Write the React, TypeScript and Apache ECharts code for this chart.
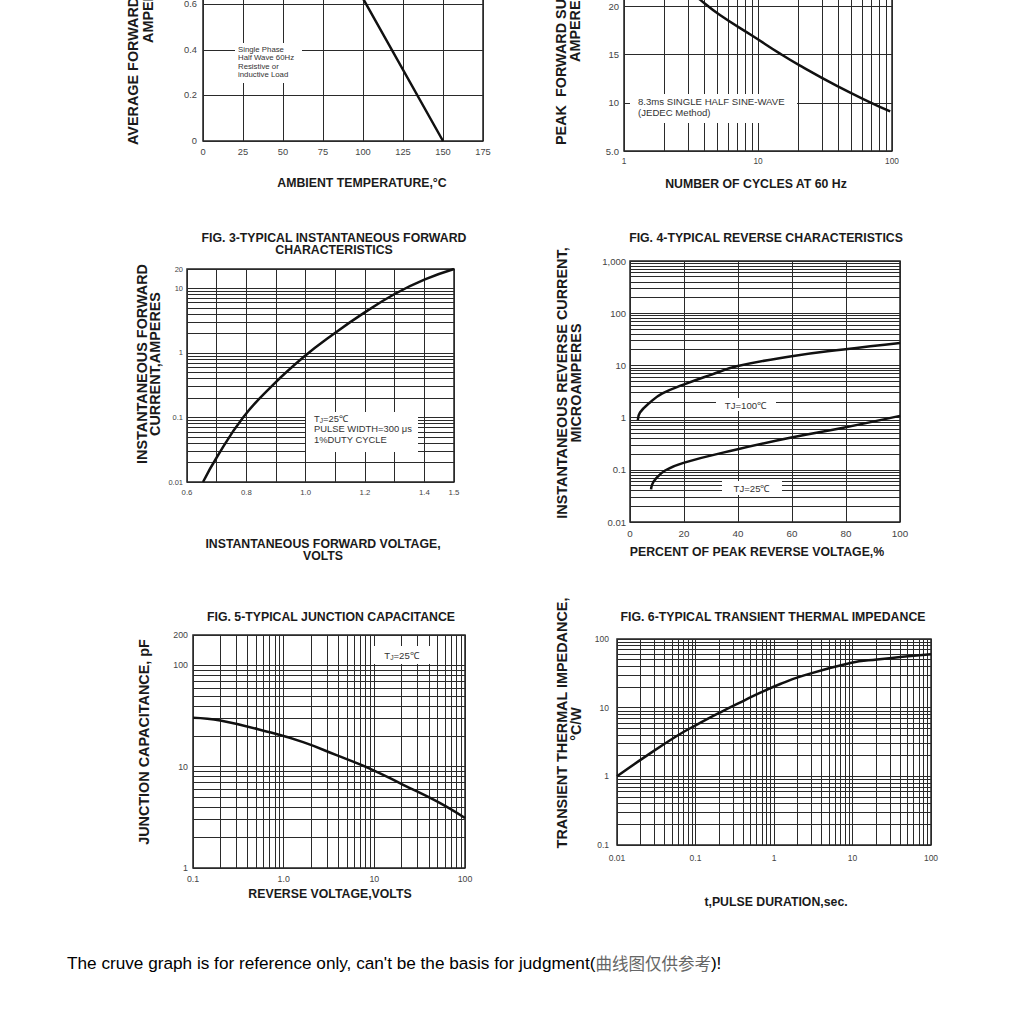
import React, { useEffect, useRef } from 'react';
import * as echarts from 'echarts';

// ---------- data ----------
const fig1Temp = [0, 70, 150];
const fig1Amps = [1.0, 1.0, 0];

const fig2Cycles = [1, 2, 3, 3.69, 5.2, 9.2, 14.6, 20.6, 38.8, 68.7, 97];
const fig2Amps = [30, 24.2, 21.8, 20.7, 19.1, 16.9, 15.1, 13.85, 11.75, 10.05, 9.1];

const fig3Volts = [0.654, 0.7, 0.789, 0.89, 0.995, 1.093, 1.194, 1.3, 1.402, 1.5];
const fig3Amps = [0.01, 0.024, 0.1, 0.32, 0.88, 1.95, 4.1, 8.2, 13.8, 20];

const fig4Pct100 = [2.9, 3.7, 7.4, 12, 19.8, 30, 39.5, 59.3, 79, 100];
const fig4Ua100 = [0.9, 1.25, 1.95, 2.9, 4.27, 6.6, 9.6, 14.8, 20.2, 27];
const fig4Pct25 = [7.8, 8.2, 9.3, 13, 19.8, 39.5, 59.3, 79, 100];
const fig4Ua25 = [0.042, 0.052, 0.065, 0.097, 0.136, 0.245, 0.41, 0.64, 1.08];

const fig5Volts = [0.1, 0.2, 0.7, 1.64, 3.83, 8.9, 20.8, 48.5, 100];
const fig5Pf = [30.5, 28.6, 21.9, 17.5, 13.0, 9.6, 6.63, 4.57, 3.12];

const fig6Time = [0.01, 0.0215, 0.057, 0.1, 0.205, 0.41, 0.66, 1.2, 2.15, 9.4, 20.5, 100];
const fig6Zth = [1.0, 1.84, 3.83, 5.52, 8.5, 12.6, 16.4, 22.1, 28.3, 44.7, 50.2, 59.8];

const fig3XLabels = [0.6, 0.8, 1.0, 1.2, 1.4, 1.5];

const FONT = '"Liberation Sans", Arial, sans-serif';
const GRID_COLOR = '#2a2a2a';
const LABEL_COLOR = '#444';
const NAME_SIZE = 12.3;
const YNAME_SIZE = 14.4;

const zip = (xs: number[], ys: number[]) => xs.map((x, i) => [x, ys[i]]);

function minorLog(min: number, max: number): number[] {
  const out: number[] = [];
  for (let e = Math.floor(Math.log10(min)); e <= Math.ceil(Math.log10(max)); e++) {
    const base = Math.pow(10, e);
    for (let k = 2; k <= 9; k++) {
      const v = +(k * base).toPrecision(6);
      if (v > min * 1.0001 && v < max * 0.9999) out.push(v);
    }
  }
  return out;
}

const fmtNum = (v: number) => String(+(+v).toPrecision(6));

function gridSeries(idx: number, xs: number[], ys: number[]) {
  return {
    type: 'line',
    xAxisIndex: idx,
    yAxisIndex: idx,
    data: [],
    silent: true,
    z: 1,
    markLine: {
      silent: true,
      symbol: ['none', 'none'],
      label: { show: false },
      emphasis: { disabled: true },
      lineStyle: { type: 'solid', color: GRID_COLOR, width: 1 },
      data: [...xs.map((v) => ({ xAxis: v })), ...ys.map((v) => ({ yAxis: v }))],
    },
  };
}

function curve(idx: number, xs: number[], ys: number[], smooth: number | boolean) {
  return {
    type: 'line',
    xAxisIndex: idx,
    yAxisIndex: idx,
    data: zip(xs, ys),
    symbol: 'none',
    smooth,
    z: 5,
    lineStyle: { color: '#111', width: 2.5 },
  };
}

function axisBase(extra: any) {
  return {
    axisLine: { show: false },
    axisTick: { show: false },
    splitLine: { show: true, lineStyle: { color: GRID_COLOR, width: 1 } },
    ...extra,
    axisLabel: { fontSize: 9, color: LABEL_COLOR, fontFamily: FONT, ...(extra.axisLabel || {}) },
  };
}

function txt(x: number, y: number, text: string, o: any = {}) {
  return {
    type: 'text',
    x,
    y,
    z: 100,
    rotation: o.rotate ? Math.PI / 2 : 0,
    style: {
      text,
      fontSize: o.size || NAME_SIZE,
      fontWeight: o.bold === false ? 'normal' : 'bold',
      fontFamily: FONT,
      fill: o.color || '#1a1a1a',
      align: o.align || 'center',
      verticalAlign: 'middle',
    },
  };
}

function box(x: number, y: number, w: number, h: number) {
  return { type: 'rect', z: 99, shape: { x, y, width: w, height: h }, style: { fill: '#fff' } };
}

function note(x: number, y: number, text: string, size: number, lh: number, rich?: any, align = 'left', vAlign = 'top') {
  return {
    type: 'text',
    x,
    y,
    z: 100,
    style: {
      text,
      fontSize: size,
      fontFamily: FONT,
      fill: '#333',
      align,
      verticalAlign: vAlign,
      lineHeight: lh,
      rich,
    },
  };
}

const tjRich = (size: number) => ({
  a: { fontSize: size, fontFamily: FONT, fill: '#333' },
  s: { fontSize: size * 0.7, fontFamily: FONT, fill: '#333', padding: [size * 0.45, 0, 0, 0] },
});

const gridBox = (left: number, top: number, width: number, height: number) => ({
  left,
  top,
  width,
  height,
  show: true,
  borderColor: '#222',
  borderWidth: 1.5,
  backgroundColor: 'transparent',
  containLabel: false,
  outerBoundsMode: 'none',
});

export default function App() {
  const ref = useRef<HTMLDivElement>(null);
  useEffect(() => {
    if (!ref.current) return;
    const chart = echarts.init(ref.current, undefined, { renderer: 'svg' });

    const option: any = {
      animation: false,
      grid: [
        gridBox(203, -87, 280, 228),
        gridBox(624, -90, 268, 241),
        gridBox(187, 269, 267, 213),
        gridBox(630, 261, 270, 261),
        gridBox(193, 635, 272, 233),
        gridBox(617, 639, 314, 206),
      ],
      xAxis: [
        axisBase({ type: 'value', gridIndex: 0, min: 0, max: 175, interval: 25, axisLabel: { margin: 6, fontSize: 9.3 } }),
        axisBase({ type: 'log', gridIndex: 1, min: 1, max: 100, axisLabel: { margin: 6, fontSize: 8.3, formatter: fmtNum } }),
        axisBase({
          type: 'value', gridIndex: 2, min: 0.6, max: 1.5, interval: 0.1,
          axisLabel: {
            margin: 6,
            fontSize: 7.8,
            formatter: (v: number) => {
              const r = Math.round(v * 10) / 10;
              return fig3XLabels.some((l) => Math.abs(l - r) < 1e-6) ? r.toFixed(1) : '';
            },
          },
        }),
        axisBase({ type: 'value', gridIndex: 3, min: 0, max: 100, interval: 20, axisLabel: { margin: 6, fontSize: 9.8 } }),
        axisBase({ type: 'log', gridIndex: 4, min: 0.1, max: 100, axisLabel: { margin: 6, fontSize: 8.8, formatter: (v: number) => (Math.abs(v - 1) < 1e-9 ? '1.0' : fmtNum(v)) } }),
        axisBase({ type: 'log', gridIndex: 5, min: 0.01, max: 100, axisLabel: { margin: 8, fontSize: 8.5, formatter: fmtNum } }),
      ],
      yAxis: [
        axisBase({ type: 'value', gridIndex: 0, min: 0, max: 1.0, interval: 0.2, axisLabel: { margin: 6, fontSize: 9.3, formatter: (v: number) => (v === 0 ? '0' : v > 0.7 ? '' : v.toFixed(1)) } }),
        axisBase({ type: 'value', gridIndex: 1, min: 5, max: 30, interval: 5, axisLabel: { margin: 5, fontSize: 9.5, formatter: (v: number) => (v === 5 ? '5.0' : v > 22 ? '' : String(v)) } }),
        axisBase({ type: 'log', gridIndex: 2, min: 0.01, max: 20, axisLabel: { margin: 4, fontSize: 7.5, formatter: fmtNum } }),
        axisBase({ type: 'log', gridIndex: 3, min: 0.01, max: 1000, axisLabel: { margin: 4, fontSize: 9.5, formatter: (v: number) => (v >= 999 ? '1,000' : fmtNum(v)) } }),
        axisBase({ type: 'log', gridIndex: 4, min: 1, max: 200, axisLabel: { margin: 5, fontSize: 8.8, formatter: fmtNum } }),
        axisBase({ type: 'log', gridIndex: 5, min: 0.1, max: 100, axisLabel: { margin: 8, fontSize: 8.5, formatter: fmtNum } }),
      ],
      series: [
        gridSeries(1, minorLog(1, 100), []),
        gridSeries(2, [], minorLog(0.01, 20)),
        gridSeries(3, [], minorLog(0.01, 1000)),
        gridSeries(4, minorLog(0.1, 100), minorLog(1, 200)),
        gridSeries(5, minorLog(0.01, 100), minorLog(0.1, 100)),
        curve(0, fig1Temp, fig1Amps, false),
        curve(1, fig2Cycles, fig2Amps, 0.45),
        curve(2, fig3Volts, fig3Amps, 0.45),
        curve(3, fig4Pct100, fig4Ua100, 0.45),
        curve(3, fig4Pct25, fig4Ua25, 0.45),
        curve(4, fig5Volts, fig5Pf, 0.45),
        curve(5, fig6Time, fig6Zth, 0.45),
      ],
      graphic: [
        // Fig 1
        box(235, 43, 67, 40),
        note(238, 45, 'Single Phase\nHalf Wave 60Hz\nResistive or\ninductive Load', 7.8, 8.4),
        txt(362, 183, 'AMBIENT TEMPERATURE,°C'),
        txt(133, 145, 'AVERAGE FORWARD RECTIFIED CURRENT,', { rotate: true, align: 'left', size: YNAME_SIZE }),
        txt(148, 43, 'AMPERES', { rotate: true, align: 'left', size: YNAME_SIZE }),
        // Fig 2
        box(630, 94, 167, 29),
        note(638, 96, '8.3ms SINGLE HALF SINE-WAVE\n(JEDEC Method)', 9.6, 11),
        txt(756, 184, 'NUMBER OF CYCLES AT 60 Hz'),
        txt(561, 145, 'PEAK  FORWARD SURGE CURRENT,', { rotate: true, align: 'left', size: YNAME_SIZE }),
        txt(575, 62, 'AMPERES', { rotate: true, align: 'left', size: YNAME_SIZE }),
        // Fig 3
        txt(334, 238, 'FIG. 3-TYPICAL INSTANTANEOUS FORWARD'),
        txt(334, 250, 'CHARACTERISTICS'),
        box(306, 412, 112, 40),
        note(314, 413, '{a|T}{s|J}{a|=25℃}\n{a|PULSE WIDTH=300 μs}\n{a|1%DUTY CYCLE}', 9.4, 10.5, tjRich(9.4)),
        txt(323, 544, 'INSTANTANEOUS FORWARD VOLTAGE,'),
        txt(323, 556, 'VOLTS'),
        txt(142, 364, 'INSTANTANEOUS FORWARD', { rotate: true, size: YNAME_SIZE }),
        txt(155, 364, 'CURRENT,AMPERES', { rotate: true, size: YNAME_SIZE }),
        // Fig 4
        txt(766, 238, 'FIG. 4-TYPICAL REVERSE CHARACTERISTICS'),
        box(716, 398, 60, 13),
        txt(746, 405, 'TJ=100℃', { bold: false, size: 9.6, color: '#333' }),
        box(722, 481, 60, 14),
        txt(752, 488, 'TJ=25℃', { bold: false, size: 9.6, color: '#333' }),
        txt(757, 552, 'PERCENT OF PEAK REVERSE VOLTAGE,%'),
        txt(562, 383, 'INSTANTANEOUS REVERSE CURRENT,', { rotate: true, size: YNAME_SIZE }),
        txt(576, 383, 'MICROAMPERES', { rotate: true, size: YNAME_SIZE }),
        // Fig 5
        txt(331, 617, 'FIG. 5-TYPICAL JUNCTION CAPACITANCE'),
        box(372, 646, 60, 18),
        note(402, 655, '{a|T}{s|J}{a|=25℃}', 9.6, 11, tjRich(9.6), 'center', 'middle'),
        txt(330, 894, 'REVERSE VOLTAGE,VOLTS'),
        txt(144, 742, 'JUNCTION CAPACITANCE, pF', { rotate: true, size: YNAME_SIZE }),
        // Fig 6
        txt(773, 617, 'FIG. 6-TYPICAL TRANSIENT THERMAL IMPEDANCE'),
        txt(776, 902, 't,PULSE DURATION,sec.'),
        txt(562, 723, 'TRANSIENT THERMAL IMPEDANCE,', { rotate: true, size: YNAME_SIZE }),
        txt(576, 724, '°C/W', { rotate: true, size: YNAME_SIZE }),
        // Footer
        {
          type: 'text',
          x: 67,
          y: 963,
          z: 100,
          style: {
            text: "{en|The cruve graph is for reference only, can't be the basis for judgment(}{cn|曲线图仅供参考}{en|)!}",
            verticalAlign: 'middle',
            align: 'left',
            rich: {
              en: { fontSize: 17.2, fontFamily: FONT, fill: '#000' },
              cn: { fontSize: 16.5, fontFamily: '"Noto Sans CJK SC"', fill: '#666' },
            },
          },
        },
      ],
    };

    chart.setOption(option);
    return () => chart.dispose();
  }, []);

  return (
    <div
      ref={ref}
      style={{ position: 'absolute', left: 0, top: 0, width: 1024, height: 1024, background: '#fff' }}
    />
  );
}
